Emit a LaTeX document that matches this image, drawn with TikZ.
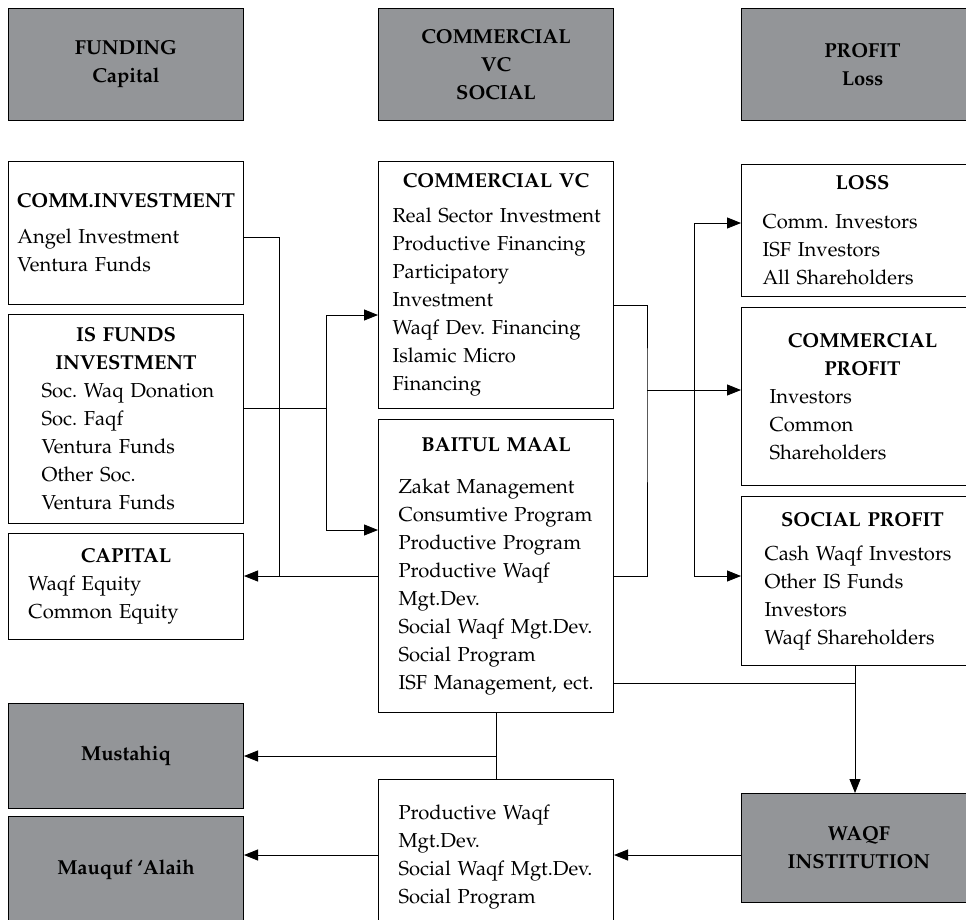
\documentclass[tikz,border=0pt]{standalone}
\usepackage[T1]{fontenc}
\usepackage{mathpazo}
\usetikzlibrary{arrows.meta}
\setlength{\parindent}{0pt}
\frenchspacing
\newcommand{\colL}{8}
\newcommand{\colM}{378}
\newcommand{\colR}{741}
\newcommand{\wid}{235}
\newcommand{\widR}{242}
% centred title, then the items indented by #2
\newcommand{\titl}[2]{\centering\textbf{#1}\par\raggedright\leftskip=#2pt}
\definecolor{boxgrey}{RGB}{147,149,152}

\begin{document}
\begin{tikzpicture}[
      x=1pt, y=-1pt, %one unit is one pixel of the layout
      font=\fontsize{20.2}{28}\selectfont,
      blk/.style={draw, line width=1pt, fill=white, anchor=north west, inner sep=0pt, minimum width=\wid pt, text width=\wid pt},
      blkR/.style={blk, minimum width=\widR pt, text width=\widR pt},
      head/.style={draw, line width=1pt, fill=boxgrey, anchor=north west, inner sep=0pt, minimum width=\wid pt, align=center, font=\fontsize{20.2}{28}\selectfont\bfseries},
      line/.style={line width=0.9pt},
      arr/.style={line, -{Triangle[length=14pt,width=11pt]}}
    ]
    \useasboundingbox (0,0) rectangle (966,919);
    \clip (0,0) rectangle (966,919);
    % Column heads
    \node[head, minimum height=112pt] (fund) at (\colL,8) {FUNDING\\Capital};
    \node[head, minimum height=112pt] (cvs) at (\colM,8) {COMMERCIAL\\VC\\SOCIAL};
    \node[head, minimum height=112pt, minimum width=\widR pt] (prof) at (\colR,8) {PROFIT\\Loss};
    % Funding column
    \node[blk, minimum height=143pt] (comm) at (\colL,161)
      {\titl{COMM.INVESTMENT}{9}\vspace{8pt}Angel Investment\\Ventura Funds\par};
    \node[blk, minimum height=209pt] (isf) at (\colL,314)
      {\titl{IS FUNDS\\INVESTMENT}{33}Soc. Waq Donation\\Soc. Faqf\\Ventura Funds\\Other Soc.\\Ventura Funds\par};
    \node[blk, minimum height=106pt] (cap) at (\colL,533)
      {\titl{CAPITAL}{20}Waqf Equity\\Common Equity\par};
    % Commercial / social column
    \node[blk, minimum height=247pt] (cvc) at (\colM,161)
      {\titl{COMMERCIAL VC}{14}\vspace{7pt}Real Sector Investment\\Productive Financing\\Participatory\\Investment\\Waqf Dev. Financing\\Islamic Micro\\Financing\par};
    \node[blk, minimum height=293pt] (bm) at (\colM,419)
      {\titl{BAITUL MAAL}{20}\vspace{14pt}Zakat Management\\Consumtive Program\\Productive Program\\Productive Waqf\\Mgt.Dev.\\Social Waqf Mgt.Dev.\\Social Program\\ISF Management, ect.\par};
    \node[blk, minimum height=156pt] (prog) at (\colM,779)
      {\raggedright\leftskip=20pt Productive Waqf\\Mgt.Dev.\\Social Waqf Mgt.Dev.\\Social Program\par};
    % Profit column
    \node[blkR, minimum height=132pt] (loss) at (\colR,164)
      {\titl{LOSS}{21}\vspace{11pt}Comm. Investors\\ISF Investors\\All Shareholders\par};
    \node[blkR, minimum height=178pt] (cprof) at (\colR,307)
      {\titl{COMMERCIAL\\PROFIT}{28}Investors\\Common\\Shareholders\par};
    \node[blkR, minimum height=169pt] (sprof) at (\colR,496)
      {\titl{SOCIAL PROFIT}{23}\vspace{6pt}Cash Waqf Investors\\Other IS Funds\\Investors\\Waqf Shareholders\par};
    % Receivers
    \node[head, minimum height=105pt] (must) at (\colL,703) {Mustahiq};
    \node[head, minimum height=106pt] (mauq) at (\colL,816) {Mauquf `Alaih};
    \node[head, minimum height=109pt] (waqf) at (\colR,793) {WAQF\\INSTITUTION};
    % Funding connectors
    \coordinate (jc) at (279,576);
    \coordinate (ji) at (326,408);
    \draw[line] (comm.east |- 0,237) -| (jc);
    \draw[arr] (bm.west |- jc) -- (cap.east |- jc);
    \draw[line] (isf.east |- ji) -- (ji);
    \draw[arr] (ji) |- (cvc.west |- 0,315);
    \draw[arr] (ji) |- (bm.west |- 0,530);
    % Profit connectors
    \coordinate (jb) at (647,390);
    \coordinate (jp) at (694,390);
    \draw[line] (cvc.east |- 0,305) -| (jb) |- (bm.east |- 0,576);
    \draw[arr] (jb) -- (cprof.west |- jb);
    \draw[arr] (jp) |- (loss.west |- 0,223);
    \draw[arr] (jp) |- (sprof.west |- 0,576);
    % Waqf connectors
    \coordinate (jw) at (855,683);
    \coordinate (jq) at (0,855);
    \draw[line] (bm.east |- jw) -- (jw);
    \draw[arr] (sprof.south -| jw) -- (waqf.north -| jw);
    \draw[line] (bm.south) -- (prog.north);
    \draw[arr] (bm.south |- must.east) -- (must.east);
    \draw[arr] (waqf.west |- jq) -- (prog.east |- jq);
    \draw[arr] (prog.west |- jq) -- (mauq.east |- jq);
\end{tikzpicture}
\end{document}
